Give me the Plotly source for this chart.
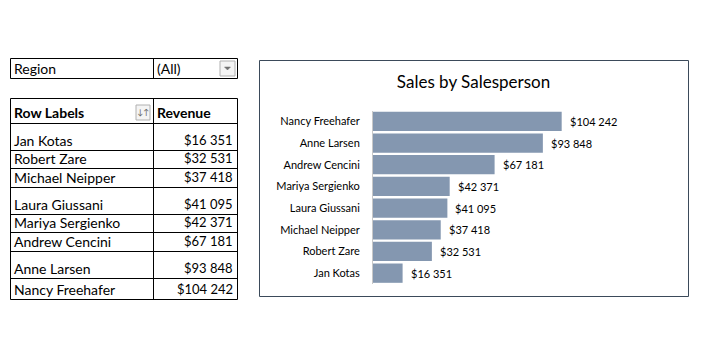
import plotly.graph_objects as go

# ---------------- data ----------------
names = ["Jan Kotas", "Robert Zare", "Michael Neipper", "Laura Giussani",
         "Mariya Sergienko", "Andrew Cencini", "Anne Larsen", "Nancy Freehafer"]
revenue = [16351, 32531, 37418, 41095, 42371, 67181, 93848, 104242]
title_text = "Sales by Salesperson"
filter_label = "Region"
filter_value = "(All)"
header_labels = ["Row Labels", "Revenue"]

W, H = 707, 351
FONT = "Lato"
BAR_COLOR = "#8497B0"

def fmt(v):
    return "$" + f"{v:,}".replace(",", " ")

def px(x):
    return x / W

def py(y):
    return 1 - y / H

shapes = []
annotations = []

def hline(x0, x1, y, color="black", w=1):
    shapes.append(dict(type="line", xref="paper", yref="paper",
                       x0=px(x0), x1=px(x1), y0=py(y), y1=py(y),
                       line=dict(color=color, width=w)))

def vline(x, y0, y1, color="black", w=1):
    shapes.append(dict(type="line", xref="paper", yref="paper",
                       x0=px(x), x1=px(x), y0=py(y0), y1=py(y1),
                       line=dict(color=color, width=w)))

def text(x, y, s, anchor="left", size=14, bold=False, color="black"):
    annotations.append(dict(xref="paper", yref="paper", x=px(x), y=py(y),
                            text=("<b>%s</b>" % s) if bold else s,
                            showarrow=False, xanchor=anchor, yanchor="middle",
                            font=dict(family=FONT, size=size, color=color)))

# ---------------- filter box ----------------
L, M, R = 10.5, 153.5, 237.5
ft, fb = 58.5, 78.5
hline(L, R, ft); hline(L, R, fb)
vline(L, ft, fb); vline(M, ft, fb); vline(R, ft, fb)
text(12, 68.5, filter_label)
text(155, 68.5, filter_value)
# dropdown button
shapes.append(dict(type="rect", xref="paper", yref="paper",
                   x0=px(220), x1=px(235), y0=py(61), y1=py(76),
                   line=dict(color="#b0b0b0", width=1), fillcolor="#f4f4f4"))
shapes.append(dict(type="path", xref="paper", yref="paper",
                   path="M %f %f L %f %f L %f %f Z" % (px(224.5), py(67), px(230.5), py(67), px(227.5), py(70)),
                   line=dict(color="#707070", width=0.5), fillcolor="#707070"))

# ---------------- pivot table ----------------
tt = 98.5
row_bottoms = [123.5, 150.5, 168.5, 187.5, 214.5, 232.5, 251.5, 278.5, 299.5]
hline(L, R, tt)
for yb in row_bottoms:
    hline(L, R, yb)
vline(L, tt, row_bottoms[-1]); vline(M, tt, row_bottoms[-1]); vline(R, tt, row_bottoms[-1])
text(12, 112.5, header_labels[0], bold=True)
text(155, 112.5, header_labels[1], bold=True)
# sort icon
shapes.append(dict(type="rect", xref="paper", yref="paper",
                   x0=px(136), x1=px(150), y0=py(105), y1=py(120),
                   line=dict(color="#b0b0b0", width=1), fillcolor="#f4f4f4"))
text(143, 112.5, "\u2193\u2191", anchor="center", size=8, color="#606060")
for i, (n, v) in enumerate(zip(names, revenue)):
    yc = row_bottoms[i + 1] - 10.5
    text(12, yc, n)
    text(235, yc, fmt(v), anchor="right", size=13)

# ---------------- chart frame ----------------
shapes.append(dict(type="rect", xref="paper", yref="paper",
                   x0=px(259.5), x1=px(688.5), y0=py(60.5), y1=py(296.5),
                   line=dict(color="#3b4a5a", width=1), fillcolor="rgba(0,0,0,0)"))

# value labels beside bars
for n, v in zip(names, revenue):
    annotations.append(dict(xref="x", yref="y", x=v, y=n, text=fmt(v),
                            showarrow=False, xanchor="left", yanchor="middle",
                            xshift=6, font=dict(family=FONT, size=11, color="black")))

fig = go.Figure(go.Bar(
    x=revenue, y=names, orientation="h",
    marker=dict(color=BAR_COLOR, line=dict(width=0)),
    hoverinfo="x+y",
))

fig.update_layout(
    width=W, height=H,
    margin=dict(l=0, r=0, t=0, b=0),
    paper_bgcolor="white", plot_bgcolor="white",
    showlegend=False,
    bargap=0.11,
    title=dict(text=title_text, x=473.5 / W, y=py(82), xanchor="center",
               yanchor="middle", xref="paper", yref="paper",
               font=dict(family=FONT, size=17, color="black")),
    xaxis=dict(domain=[px(373), px(590.2)], range=[0, 120000], visible=False,
               fixedrange=True),
    yaxis=dict(domain=[py(284), py(110.5)], type="category",
               categoryorder="array", categoryarray=names,
               showline=True, linecolor="#c8c8c8", linewidth=1,
               showgrid=False, ticks="", ticklabelstandoff=10,
               tickfont=dict(family=FONT, size=11, color="black"),
               fixedrange=True),
    shapes=shapes,
    annotations=annotations,
)

fig.write_html("out.html")
